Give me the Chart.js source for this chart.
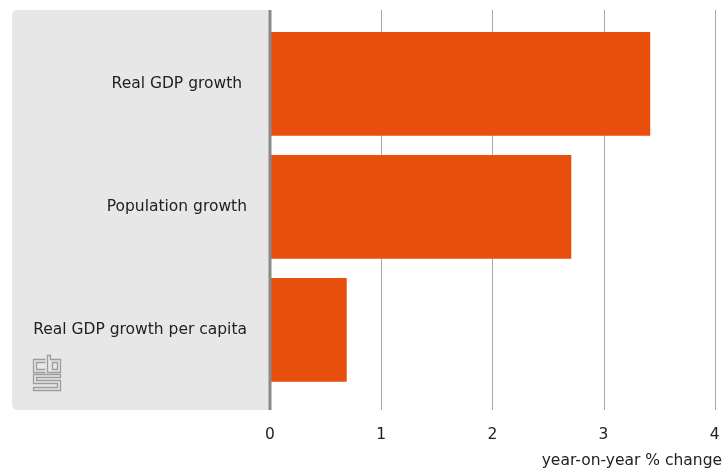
<!DOCTYPE html>
<html>
<head>
<meta charset="utf-8">
<script src="https://cdn.jsdelivr.net/npm/chart.js@4"></script>
<style>
html,body{margin:0;padding:0;background:#fff;}
#wrap{width:724px;height:469px;position:relative;}
</style>
</head>
<body>
<div id="wrap"><canvas id="c" width="724" height="469"></canvas></div>
<script>
const categories = ['Real GDP growth ', 'Population growth', 'Real GDP growth per capita'];
const values = [3.42, 2.71, 0.69];
const xTickValues = [0, 1, 2, 3, 4];
const axisTitle = 'year-on-year % change';

const FONT = '"DejaVu Sans", sans-serif';
const FSIZE = 15.5;
const PANEL_TOP = 10, PANEL_BOTTOM = 410, PANEL_LEFT = 12;

const decor = {
  id: 'decor',
  beforeDraw(chart) {
    const ctx = chart.ctx;
    const x0 = chart.scales.x.getPixelForValue(0);
    ctx.save();
    ctx.fillStyle = '#e6e7e6';
    const r = 6;
    ctx.beginPath();
    ctx.moveTo(x0, PANEL_TOP);
    ctx.lineTo(PANEL_LEFT + r, PANEL_TOP);
    ctx.quadraticCurveTo(PANEL_LEFT, PANEL_TOP, PANEL_LEFT, PANEL_TOP + r);
    ctx.lineTo(PANEL_LEFT, PANEL_BOTTOM - r);
    ctx.quadraticCurveTo(PANEL_LEFT, PANEL_BOTTOM, PANEL_LEFT + r, PANEL_BOTTOM);
    ctx.lineTo(x0, PANEL_BOTTOM);
    ctx.closePath();
    ctx.fill();
    // CBS logo (decorative)
    ctx.strokeStyle = '#9c9d9c';
    ctx.lineWidth = 1.3;
    const L = 33.5, T = 355.5;
    ctx.beginPath();
    ctx.moveTo(L + 12, T + 4); ctx.lineTo(L, T + 4); ctx.lineTo(L, T + 17); ctx.lineTo(L + 12, T + 17);
    ctx.moveTo(L + 12, T + 7); ctx.lineTo(L + 3, T + 7); ctx.lineTo(L + 3, T + 14); ctx.lineTo(L + 12, T + 14);
    ctx.moveTo(L + 14, T); ctx.lineTo(L + 17, T); ctx.lineTo(L + 17, T + 4); ctx.lineTo(L + 27, T + 4);
    ctx.lineTo(L + 27, T + 17); ctx.lineTo(L + 14, T + 17); ctx.closePath();
    ctx.rect(L + 19, T + 7, 5, 7);
    ctx.moveTo(L + 27, T + 19); ctx.lineTo(L, T + 19); ctx.lineTo(L, T + 28); ctx.lineTo(L + 24, T + 28);
    ctx.lineTo(L + 24, T + 32); ctx.lineTo(L, T + 32); ctx.lineTo(L, T + 35); ctx.lineTo(L + 27, T + 35);
    ctx.lineTo(L + 27, T + 25); ctx.lineTo(L + 3, T + 25); ctx.lineTo(L + 3, T + 22); ctx.lineTo(L + 27, T + 22);
    ctx.closePath();
    ctx.stroke();
    ctx.restore();
  },
  beforeDatasetsDraw(chart) {
    const ctx = chart.ctx;
    const xs = chart.scales.x;
    ctx.save();
    ctx.strokeStyle = '#a8a8a8';
    ctx.lineWidth = 1;
    xTickValues.forEach(v => {
      if (v === 0) return;
      const px = Math.round(xs.getPixelForValue(v)) + 0.5;
      ctx.beginPath();
      ctx.moveTo(px, PANEL_TOP);
      ctx.lineTo(px, PANEL_BOTTOM);
      ctx.stroke();
    });
    ctx.restore();
  },
  afterDatasetsDraw(chart) {
    const ctx = chart.ctx;
    const xs = chart.scales.x;
    const px = xs.getPixelForValue(0);
    ctx.save();
    ctx.fillStyle = '#8a8a8a';
    ctx.fillRect(Math.round(px) - 1.5, PANEL_TOP, 3, PANEL_BOTTOM - PANEL_TOP);
    ctx.fillStyle = '#222';
    ctx.font = FSIZE + 'px ' + FONT;
    ctx.textAlign = 'right';
    ctx.textBaseline = 'alphabetic';
    ctx.fillText(axisTitle, 722, 465);
    ctx.restore();
  }
};

new Chart(document.getElementById('c'), {
  type: 'bar',
  data: {
    labels: categories,
    datasets: [{
      data: values,
      backgroundColor: '#e84e0c',
      borderWidth: 0,
      categoryPercentage: 1,
      barPercentage: 0.843
    }]
  },
  options: {
    indexAxis: 'y',
    responsive: false,
    animation: false,
    layout: { padding: { top: 22.4, right: 9.3, bottom: 0, left: 0 } },
    plugins: { legend: { display: false }, tooltip: { enabled: false } },
    scales: {
      x: {
        type: 'linear',
        min: 0, max: 4,
        afterBuildTicks(scale) { scale.ticks = xTickValues.map(v => ({ value: v })); },
        afterFit(scale) { scale.height = 77.6; scale.paddingLeft = 0; scale.paddingRight = 0; },
        grid: { display: false, drawTicks: false },
        border: { display: false },
        ticks: { color: '#222', font: { family: FONT, size: FSIZE }, padding: 34 }
      },
      y: {
        afterFit(scale) { scale.width = 270; scale.paddingTop = 0; scale.paddingBottom = 0; },
        grid: { display: false, drawTicks: false },
        border: { display: false },
        ticks: { color: '#222', font: { family: FONT, size: FSIZE }, padding: 23 }
      }
    }
  },
  plugins: [decor]
});
</script>
</body>
</html>
